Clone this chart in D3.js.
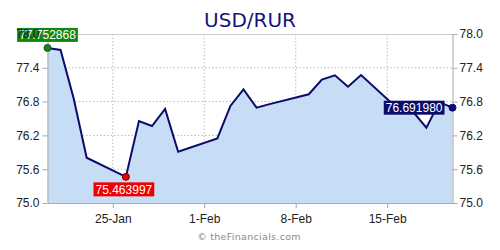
<!DOCTYPE html>
<html>
<head>
<meta charset="utf-8">
<script src="https://cdn.jsdelivr.net/npm/d3@7"></script>
<style>
  body { margin: 0; background: #fff; }
  svg { display: block; font-family: 'DejaVu Sans', Verdana, sans-serif; }
  .grid line { stroke: #bbb; stroke-dasharray: 1.5 2; }
  .axis path, .axis line { stroke: #aaa; }
  .axis text { fill: #222; font-size: 12px; }
</style>
</head>
<body>
<div id="chart"></div>
<script>
// USD/RUR daily closes, Jan–Feb 2026
const dates = [
  '2026-01-20', '2026-01-21', '2026-01-22', '2026-01-23', '2026-01-26',
  '2026-01-27', '2026-01-28', '2026-01-29', '2026-01-30', '2026-02-02',
  '2026-02-03', '2026-02-04', '2026-02-05', '2026-02-06', '2026-02-09',
  '2026-02-10', '2026-02-11', '2026-02-12', '2026-02-13', '2026-02-16',
  '2026-02-17', '2026-02-18', '2026-02-19', '2026-02-20'
];
const rates = [
  77.752868, 77.716, 76.858, 75.804, 75.463997,
  76.456, 76.367, 76.669, 75.911, 76.148,
  76.722, 77.018, 76.692, 76.755, 76.93,
  77.19, 77.267, 77.064, 77.272, 76.633,
  76.615, 76.337, 76.79, 76.69198
];
const yTicks = [75.0, 75.6, 76.2, 76.8, 77.4, 78.0];
const xTicks = ['2026-01-25', '2026-02-01', '2026-02-08', '2026-02-15'];

const width = 500, height = 250;
const margin = { top: 34, right: 47.5, bottom: 47, left: 47.5 };
const innerWidth = width - margin.left - margin.right;
const innerHeight = height - margin.top - margin.bottom;

const parse = d3.utcParse('%Y-%m-%d');
const data = dates.map((d, i) => ({ date: parse(d), value: rates[i] }));

const svg = d3.select('#chart')
  .append('svg')
    .attr('width', width)
    .attr('height', height);

const g = svg.append('g')
  .attr('transform', `translate(${margin.left}, ${margin.top})`);

const scaleX = d3.scaleUtc()
  .domain([parse('2026-01-20'), parse('2026-02-20')])
  .range([0, innerWidth]);

const scaleY = d3.scaleLinear()
  .domain([75, 78])
  .range([innerHeight, 0]);

// grid
g.append('g')
  .attr('class', 'grid')
  .selectAll('line.h')
  .data(yTicks.slice(1, -1))
  .enter().append('line')
    .attr('x1', 0).attr('x2', innerWidth)
    .attr('y1', d => scaleY(d)).attr('y2', d => scaleY(d));

g.append('g')
  .attr('class', 'grid')
  .selectAll('line.v')
  .data(xTicks.map(parse))
  .enter().append('line')
    .attr('x1', d => scaleX(d)).attr('x2', d => scaleX(d))
    .attr('y1', 0).attr('y2', innerHeight);

// area + line
const area = d3.area()
  .x(d => scaleX(d.date))
  .y0(innerHeight)
  .y1(d => scaleY(d.value));

const line = d3.line()
  .x(d => scaleX(d.date))
  .y(d => scaleY(d.value));

g.append('path')
  .datum(data)
  .attr('d', area)
  .attr('fill', '#c7dcf5');

g.append('path')
  .datum(data)
  .attr('d', line)
  .attr('fill', 'none')
  .attr('stroke', '#0b0b6b')
  .attr('stroke-width', 2)
  .attr('stroke-linejoin', 'miter');

// frame
g.append('line')
  .attr('x1', 0).attr('x2', innerWidth)
  .attr('y1', 0.5).attr('y2', 0.5)
  .attr('stroke', '#ccc');

// axes
const fmtY = d3.format('.1f');

g.append('g')
  .attr('class', 'axis')
  .call(d3.axisLeft(scaleY).tickValues(yTicks.slice(0, -1)).tickFormat(fmtY).tickSize(5).tickPadding(3).tickSizeOuter(0));

g.append('g')
  .attr('class', 'axis')
  .attr('transform', `translate(${innerWidth}, 0)`)
  .call(d3.axisRight(scaleY).tickValues(yTicks).tickFormat(fmtY).tickSize(5).tickPadding(2).tickSizeOuter(0));

const xAxis = g.append('g')
  .attr('class', 'axis')
  .attr('transform', `translate(0, ${innerHeight})`)
  .call(d3.axisBottom(scaleX).tickValues(xTicks.map(parse)).tickFormat(d3.utcFormat('%-d-%b')).tickSize(5).tickPadding(6).tickSizeOuter(0));
xAxis.selectAll('text').attr('font-size', 13);

// markers and value labels
const first = data[0];
const low = data[d3.minIndex(data, d => d.value)];
const last = data[data.length - 1];

const labels = [
  { d: first, color: '#118811', stroke: '#1d4d2d', pos: 'above' },
  { d: low, color: '#ee0000', stroke: '#6a0000', pos: 'below' },
  { d: last, color: '#0b0b6b', stroke: '#0b0b6b', pos: 'left' }
];

labels.forEach(l => {
  const px = scaleX(l.d.date), py = scaleY(l.d.value);
  const lbl = g.append('g');
  const txt = lbl.append('text')
    .text(l.d.value.toFixed(6))
    .attr('font-family', "'Liberation Sans', Arial, sans-serif")
    .attr('font-size', 12)
    .attr('fill', '#fff');
  const w = txt.node().getComputedTextLength() + 4;
  const h = 14;
  let bx, by;
  if (l.pos === 'above') { bx = px - w / 2; by = py - 20; }
  else if (l.pos === 'below') { bx = px - w / 2 - 2; by = py + 5.5; }
  else { bx = px - w - 8; by = py - 7; }
  lbl.insert('rect', 'text')
    .attr('x', bx).attr('y', by)
    .attr('width', w).attr('height', h)
    .attr('fill', l.color);
  txt.attr('x', bx + 2).attr('y', by + 11.5);

  g.append('circle')
    .attr('cx', px).attr('cy', py)
    .attr('r', 3.5)
    .attr('fill', l.color)
    .attr('stroke', l.stroke)
    .attr('stroke-width', 1);
});

// top left tick label sits over the green badge, as in the original
g.append('g')
  .attr('class', 'axis')
  .call(d3.axisLeft(scaleY).tickValues(yTicks.slice(-1)).tickFormat(fmtY).tickSize(5).tickPadding(3).tickSizeOuter(0))
  .select('.domain').remove();

// title + credit
svg.append('text')
  .attr('x', 250).attr('y', 27)
  .attr('text-anchor', 'middle')
  .attr('font-size', 20)
  .attr('fill', '#14147a')
  .text('USD/RUR');

svg.append('text')
  .attr('x', 249).attr('y', 240)
  .attr('text-anchor', 'middle')
  .attr('font-size', 9.5)
  .attr('fill', '#8a8a8a')
  .attr('letter-spacing', 0.3)
  .text('© theFinancials.com');
</script>
</body>
</html>
